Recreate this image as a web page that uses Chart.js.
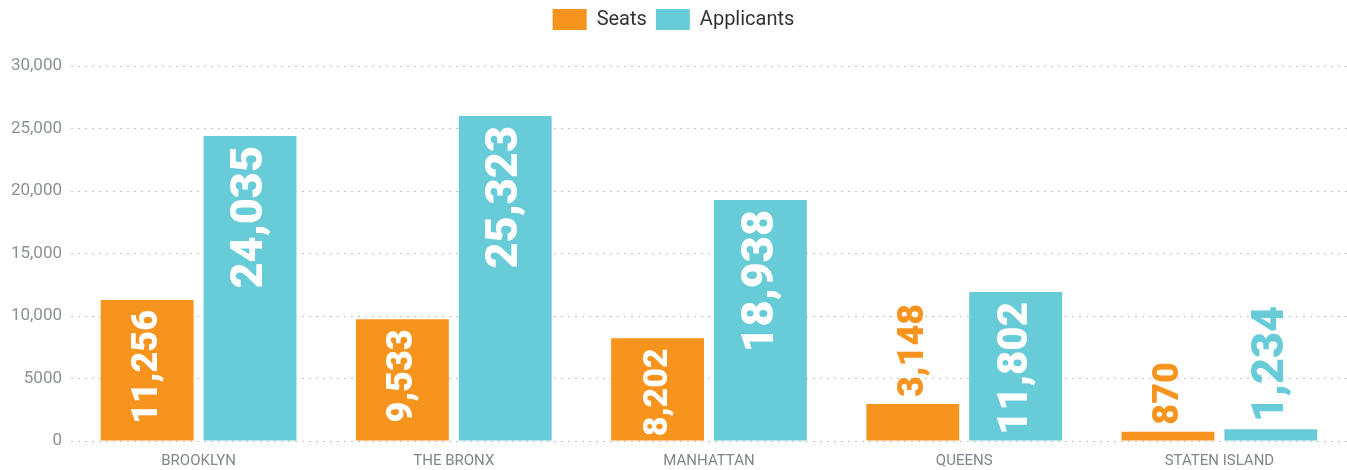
<!DOCTYPE html>
<html>
<head>
<meta charset="utf-8">
<script src="https://cdn.jsdelivr.net/npm/chart.js@4/dist/chart.umd.min.js"></script>
<style>
  html, body { margin: 0; padding: 0; background: #fff; }
  #wrap { width: 1347px; height: 470px; }
</style>
</head>
<body>
<div id="wrap"><canvas id="chart"></canvas></div>
<script>
const boroughs = ['BROOKLYN', 'THE BRONX', 'MANHATTAN', 'QUEENS', 'STATEN ISLAND'];
// bar heights as drawn in the picture
const seats = [11280, 9735, 8216, 2960, 744];
const applicants = [24400, 26000, 19280, 11920, 936];
// numbers printed on the bars
const seatLabels = ['11,256', '9,533', '8,202', '3,148', '870'];
const applicantLabels = ['24,035', '25,323', '18,938', '11,802', '1,234'];
const yTicks = [0, 5000, 10000, 15000, 20000, 25000, 30000];
const yTickLabels = ['0', '5000', '10,000', '15,000', '20,000', '25,000', '30,000'];

const ORANGE = '#F7941E';
const CYAN = '#68CCD8';

const barLabels = {
  id: 'barLabels',
  afterDatasetsDraw(chart) {
    const ctx = chart.ctx;
    const texts = [seatLabels, applicantLabels];
    const sizes = [36, 45];
    ctx.save();
    ctx.textBaseline = 'middle';
    chart.data.datasets.forEach((ds, di) => {
      chart.getDatasetMeta(di).data.forEach((bar, i) => {
        const txt = texts[di][i];
        const h = bar.base - bar.y;
        let size = sizes[di];
        ctx.font = '900 ' + size + 'px Roboto';
        const inside = h > 80;
        if (inside) {
          // shrink a label that would run past the bottom of its bar
          const w = ctx.measureText(txt).width;
          if (w + 14 > h) {
            size = Math.floor(size * (h - 14) / w);
            ctx.font = '900 ' + size + 'px Roboto';
          }
        }
        ctx.save();
        ctx.translate(bar.x, bar.y);
        ctx.rotate(-Math.PI / 2);
        if (inside) {
          ctx.fillStyle = '#fff';
          ctx.textAlign = 'right';
          ctx.fillText(txt, -10, 1);
        } else {
          ctx.fillStyle = ds.backgroundColor;
          ctx.textAlign = 'left';
          ctx.fillText(txt, 7, 1);
        }
        ctx.restore();
      });
    });
    ctx.restore();
  }
};

// push the plot area down below the legend
const legendGap = {
  id: 'legendGap',
  beforeInit(chart) {
    const fit = chart.legend.fit;
    chart.legend.fit = function () {
      fit.call(this);
      this.height += 26;
    };
  }
};

new Chart(document.getElementById('chart'), {
  type: 'bar',
  data: {
    labels: boroughs,
    datasets: [
      { label: 'Seats', data: seats, backgroundColor: ORANGE },
      { label: 'Applicants', data: applicants, backgroundColor: CYAN }
    ]
  },
  options: {
    responsive: true,
    maintainAspectRatio: false,
    animation: false,
    layout: { padding: 0 },
    datasets: {
      bar: { categoryPercentage: 0.806, barPercentage: 0.903 }
    },
    plugins: {
      tooltip: { enabled: false },
      legend: {
        position: 'top',
        labels: {
          boxWidth: 34,
          boxHeight: 21,
          padding: 9,
          color: '#333',
          font: { family: 'Roboto', size: 20 }
        }
      }
    },
    scales: {
      x: {
        afterFit: scale => { scale.height = 29; },
        grid: { display: false, drawTicks: false },
        border: { display: false },
        ticks: {
          color: '#80868b',
          padding: 11,
          font: { family: 'Roboto', size: 15 }
        }
      },
      y: {
        min: 0,
        max: 30000,
        afterBuildTicks: scale => {
          scale.ticks = yTicks.map(v => ({ value: v }));
        },
        afterFit: scale => { scale.width = 71; },
        grid: {
          color: '#c4c4c4',
          lineWidth: 1,
          drawTicks: false
        },
        border: { display: false, dash: [2, 5] },
        ticks: {
          color: '#8c9196',
          padding: 9,
          font: { family: 'Roboto', size: 17 },
          callback: (v, i) => yTickLabels[i]
        }
      }
    }
  },
  plugins: [legendGap, barLabels]
});
</script>
</body>
</html>
